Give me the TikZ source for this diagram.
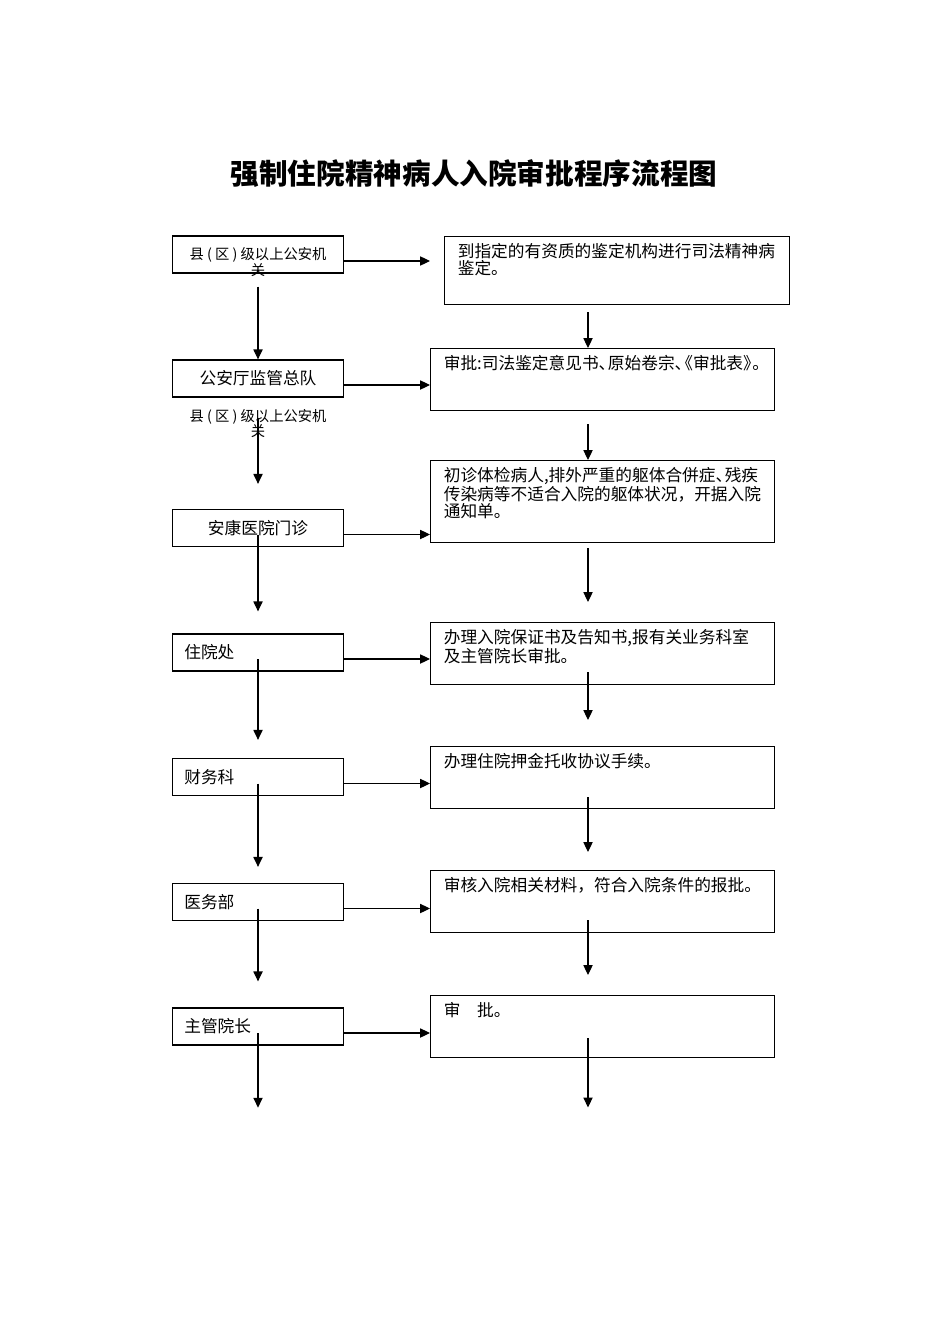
\documentclass[tikz,border=0pt]{standalone}
\usepackage{fontspec}
\setmainfont{Noto Sans CJK SC}
\usepackage{tikz}
\usetikzlibrary{arrows.meta,positioning,calc}

\begin{document}
\begin{tikzpicture}[x=0.22105mm,y=-0.22105mm]
			\tikzstyle{Title}	= [font=\fontsize{18pt}{18pt}\selectfont\bfseries, inner sep=0pt]
			\tikzstyle{Box}		= [rectangle, draw, line width=0.9pt, minimum width=107.7pt, minimum height=23.2pt, inner sep=0pt, font=\fontsize{10.5pt}{11pt}\selectfont]
			\tikzstyle{Mid}		= [align=center]
			\tikzstyle{Left}	= [text width=92.7pt, inner xsep=7.5pt, align=left]
			\tikzstyle{RBox}	= [rectangle, draw, line width=0.9pt, anchor=north west, minimum width=216.1pt, minimum height=39pt, inner sep=0pt]
			\tikzstyle{Note}	= [anchor=north west, inner xsep=8.5pt, inner ysep=4.5pt, text width=205pt, align=left, font=\fontsize{10.5pt}{10.7pt}\selectfont]
			\tikzstyle{Small}	= [inner sep=0pt, align=center, font=\fontsize{9pt}{10pt}\selectfont]
			\tikzstyle{Flow}	= [line width=0.65pt, -{Triangle[length=6.2pt,width=5.8pt]}]

			\useasboundingbox (0,0) rectangle (950,1344);

			\node (title) at (474,174) [Title] {强制住院精神病人入院审批程序流程图};

			\node (b1) at (258,254.5) [Box] {};
			\node (b1t) at (258,262) [Small] {县 ( 区 ) 级以上公安机\\关};
			\node (b2) at (258,378.5) [Box][Mid] {公安厅监管总队};
			\node (k1) at (258,423.5) [Small] {县 ( 区 ) 级以上公安机\\关};
			\node (b3) at (258,528) [Box][Mid] {安康医院门诊};
			\node (b4) at (258,652.5) [Box][Left] {住院处};
			\node (b5) at (258,777) [Box][Left] {财务科};
			\node (b6) at (258,902) [Box][Left] {医务部};
			\node (b7) at (258,1026.5) [Box][Left] {主管院长};

			\node (r1) at (444,236) [RBox, minimum width=216.7pt, minimum height=42.6pt] {};
			\node (r2) at (430,348) [RBox] {};
			\node (r3) at (430,460) [RBox, minimum height=51.4pt] {};
			\node (r4) at (430,622) [RBox] {};
			\node (r5) at (430,746) [RBox] {};
			\node (r6) at (430,870) [RBox] {};
			\node (r7) at (430,995) [RBox] {};

			\node (r1t) at (r1.north west) [Note] {到指定的有资质的鉴定机构进行司法精神病\\鉴定。};
			\node (r2t) at (r2.north west) [Note] {审批:司法鉴定意见书、\kern-.45em 原始卷宗、\kern-.45em\kern-.45em《审批表》\kern-.45em 。};
			\node (r3t) at (r3.north west) [Note] {初诊体检病人,排外严重的躯体合併症、\kern-.45em 残疾\\传染病等不适合入院的躯体状况，开据入院\\通知单。};
			\node (r4t) at (r4.north west) [Note] {办理入院保证书及告知书,报有关业务科室\\及主管院长审批。};
			\node (r5t) at (r5.north west) [Note] {办理住院押金托收协议手续。};
			\node (r6t) at (r6.north west) [Note] {审核入院相关材料，符合入院条件的报批。};
			\node (r7t) at (r7.north west) [Note] {审\quad 批。};

			\coordinate (axis) at (588,0);

			\foreach \i in {1,...,7}
				\draw [Flow] ($(b\i.east)+(0,6.5)$) coordinate (h\i) -- (h\i -| r2.west);

			\draw [Flow] ($(b1.south)+(0,13)$) -- (b2.north);
			\draw [Flow] ($(b2.south)+(0,20)$) -- ($(b3.north)+(0,-25)$);
			\draw [Flow] (h3 -| b3.south) -- ($(b4.north)+(0,-22)$);
			\draw [Flow] (h4 -| b4.south) -- ($(b5.north)+(0,-18)$);
			\draw [Flow] (h5 -| b5.south) -- ($(b6.north)+(0,-16)$);
			\draw [Flow] (h6 -| b6.south) -- ($(b7.north)+(0,-26)$);
			\draw [Flow] (h7 -| b7.south) -- ($(b7.south)+(0,62)$);

			\draw [Flow] ($(axis |- r1.south)+(0,7)$) -- (axis |- r2.north);
			\draw [Flow] ($(axis |- r2.south)+(0,13)$) -- (axis |- r3.north);
			\draw [Flow] ($(axis |- r3.south)+(0,5)$) -- ($(axis |- r4.north)+(0,-20)$);
			\draw [Flow] ($(axis |- r4.north)+(0,50)$) -- ($(axis |- r5.north)+(0,-26)$);
			\draw [Flow] ($(axis |- r5.north)+(0,51)$) -- ($(axis |- r6.north)+(0,-18)$);
			\draw [Flow] ($(axis |- r6.north)+(0,50)$) -- ($(axis |- r7.north)+(0,-20)$);
			\draw [Flow] ($(axis |- r7.north)+(0,43)$) -- ($(axis |- r7.south)+(0,49)$);
		\end{tikzpicture}
\end{document}
